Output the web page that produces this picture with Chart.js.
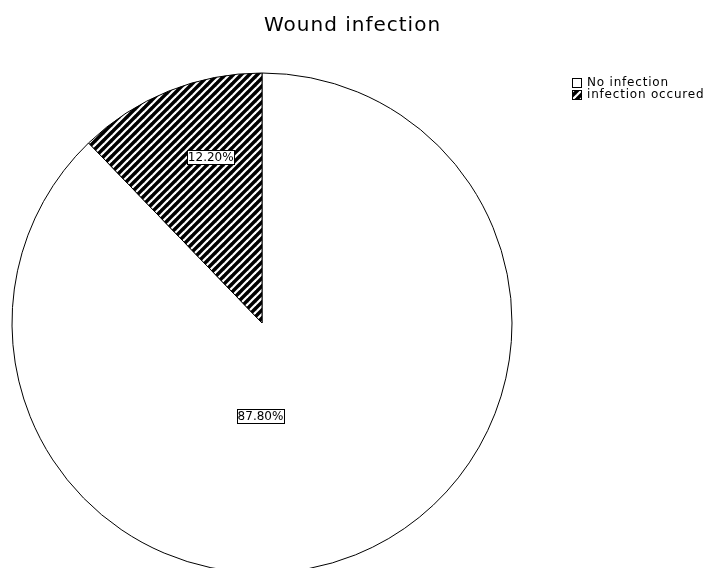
<!DOCTYPE html>
<html><head><meta charset="utf-8">
<script src="https://cdn.jsdelivr.net/npm/chart.js@4/dist/chart.umd.min.js"></script>
<style>html,body{margin:0;padding:0;background:#fff}#wrap{width:712px;height:568px}</style>
</head><body><div id="wrap"><canvas id="c" width="712" height="568"></canvas></div>
<script>
const categories = ["No infection", "infection occured"];
const percentValues = [87.8, 12.2];
const valueLabels = ["87.80%", "12.20%"];
const chartTitle = "Wound infection";

function makeHatch() {
  const s = 8;
  const c = document.createElement('canvas');
  c.width = s; c.height = s;
  const g = c.getContext('2d');
  g.fillStyle = '#000'; g.fillRect(0, 0, s, s);
  g.strokeStyle = '#fff'; g.lineWidth = 2.2;
  for (let k = -1; k <= 1; k++) {
    g.beginPath();
    g.moveTo(k * s - 1, s + 1);
    g.lineTo(k * s + s + 1, -1);
    g.stroke();
  }
  return document.getElementById('c').getContext('2d').createPattern(c, 'repeat');
}
const hatch = makeHatch();
const fills = ['#ffffff', hatch];

const FONT = '"DejaVu Sans", Verdana, sans-serif';

const overlay = {
  id: 'overlay',
  afterDraw(chart) {
    const ctx = chart.ctx;
    const meta = chart.getDatasetMeta(0);
    const arc0 = meta.data[0];
    const cx = arc0.x, cy = arc0.y, r = arc0.outerRadius;
    ctx.save();
    // title
    ctx.fillStyle = '#000';
    ctx.font = '20px ' + FONT;
    ctx.letterSpacing = '1px';
    ctx.textAlign = 'center'; ctx.textBaseline = 'alphabetic';
    ctx.fillText(chartTitle, cx + 0.362 * r, 31);
    // value labels, offsets in radius units from the pie centre
    const offs = [[-0.006, 0.37], [-0.205, -0.666]];
    ctx.font = '12px ' + FONT;
    ctx.letterSpacing = '0px';
    ctx.textBaseline = 'middle';
    meta.data.forEach((a, i) => {
      const x = cx + offs[i][0] * r, y = cy + offs[i][1] * r;
      const w = Math.round(ctx.measureText(valueLabels[i]).width + 1);
      const h = 14;
      const bx = Math.round(x - w / 2) + 0.5, by = Math.round(y - h / 2) + 0.5;
      ctx.fillStyle = '#fff';
      ctx.fillRect(bx, by, w, h);
      ctx.strokeStyle = '#000'; ctx.lineWidth = 1;
      ctx.strokeRect(bx, by, w, h);
      ctx.fillStyle = '#000';
      ctx.fillText(valueLabels[i], x, y + 1);
    });
    // legend
    ctx.font = '12px ' + FONT;
    ctx.letterSpacing = '0.8px';
    ctx.textAlign = 'left'; ctx.textBaseline = 'middle';
    categories.forEach((lab, i) => {
      const bx = 572, by = 78 + i * 12;
      ctx.fillStyle = fills[i];
      ctx.fillRect(bx + 0.5, by + 0.5, 9, 9);
      ctx.strokeStyle = '#000'; ctx.lineWidth = 1;
      ctx.strokeRect(bx + 0.5, by + 0.5, 9, 9);
      ctx.fillStyle = '#000';
      ctx.fillText(lab, 587, by + 5);
    });
    ctx.restore();
  }
};

new Chart(document.getElementById('c'), {
  type: 'pie',
  data: {
    labels: categories,
    datasets: [{
      data: percentValues,
      backgroundColor: fills,
      borderColor: '#000',
      borderWidth: 1,
      hoverOffset: 0
    }]
  },
  options: {
    responsive: false,
    animation: false,
    radius: 250,
    layout: { padding: { left: 12, right: 200, top: 78, bottom: 0 } },
    plugins: { legend: { display: false }, title: { display: false }, tooltip: { enabled: false } },
    events: []
  },
  plugins: [overlay]
});
</script>
</body></html>
